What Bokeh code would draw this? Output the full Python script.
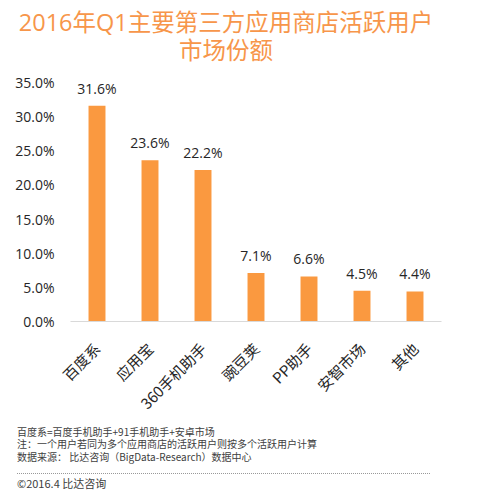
from math import pi
from bokeh.plotting import figure
from bokeh.layouts import column
from bokeh.core.properties import value
from bokeh.models import (ColumnDataSource, FactorRange, Range1d, PrintfTickFormatter,
                          FixedTicker, LabelSet, Div)
from bokeh.embed import file_html
from bokeh.resources import INLINE

categories = ["百度系", "应用宝", "360手机助手", "豌豆荚", "PP助手", "安智市场", "其他"]
shares = [31.6, 23.6, 22.2, 7.1, 6.6, 4.5, 4.4]
share_labels = ["31.6%", "23.6%", "22.2%", "7.1%", "6.6%", "4.5%", "4.4%"]
y_ticks = [0, 5, 10, 15, 20, 25, 30, 35]

title_lines = ["2016年Q1主要第三方应用商店活跃用户", "市场份额"]
notes = ["百度系=百度手机助手+91手机助手+安卓市场",
         "注：一个用户若同为多个应用商店的活跃用户则按多个活跃用户计算",
         "数据来源： 比达咨询（BigData-Research）数据中心"]
copyright_text = "©2016.4  比达咨询"

FONT = "Noto Sans CJK SC"
NUM_FONT = "Open Sans"
W = 499
TOP_H, FIG_H, FOOT_H = 70, 353, 78
FL, FR = 70, 441          # frame left/right (px)
FT, FB = 12, 252          # frame top/bottom inside the figure (px)

src = ColumnDataSource(dict(cat=categories, val=shares, lab=share_labels))

p = figure(width=W, height=FIG_H, output_backend="svg", toolbar_location=None,
           x_range=FactorRange(*categories, range_padding=0.0),
           y_range=Range1d(0, 35),
           min_border_left=FL, min_border_right=W - FR, min_border_top=FT,
           min_border_bottom=FIG_H - FB)
p.outline_line_color = None
p.grid.visible = False
p.background_fill_color = "white"

p.vbar(x="cat", top="val", width=0.32, source=src, fill_color="#FA9940", line_color=None)
p.add_layout(LabelSet(x="cat", y="val", text="lab", source=src, text_align="center",
                      text_baseline="alphabetic", y_offset=12, text_font_size=value("14px"),
                      text_font=value(NUM_FONT), text_color=value("#262626")))

p.yaxis.ticker = FixedTicker(ticks=y_ticks)
p.yaxis.formatter = PrintfTickFormatter(format="%.1f%%")
p.yaxis.axis_line_color = None
p.yaxis.major_tick_line_color = None
p.yaxis.minor_tick_line_color = None
p.yaxis.major_label_text_font_size = "14px"
p.yaxis.major_label_text_font = NUM_FONT
p.yaxis.major_label_text_color = "#262626"
p.yaxis.major_label_standoff = 10

p.xaxis.axis_line_color = "#d9d9d9"
p.xaxis.major_tick_line_color = None
p.xaxis.minor_tick_line_color = None
p.xaxis.major_label_orientation = pi / 4
p.xaxis.major_label_text_font_size = "15px"
p.xaxis.major_label_text_font = FONT
p.xaxis.major_label_text_color = "#262626"
p.xaxis.major_label_standoff = 18

title_html = (
    f"<div style=\"width:452px;text-align:center;color:#F7964A;"
    f"font-family:'{NUM_FONT}','{FONT}';"
    f"font-size:23.5px;line-height:28px;padding-top:8px;white-space:nowrap\">"
    + "<br>".join(title_lines) + "</div>"
)
title_div = Div(text=title_html, width=W, height=TOP_H, margin=0)

foot_html = (
    f"<div style=\"font-family:'{FONT}';color:#404040;padding-left:17px;"
    f"padding-top:3px;white-space:nowrap\">"
    f"<div style=\"font-size:10px;line-height:12.3px\">" + "<br>".join(notes) + "</div>"
    f"<div style=\"width:413px;margin-top:10px;border-top:1px dotted #999999\"></div>"
    f"<div style=\"font-size:11px;line-height:14px;margin-top:2px\">{copyright_text}</div>"
    "</div>"
)
foot_div = Div(text=foot_html, width=W, height=FOOT_H, margin=0)

layout = column(title_div, p, foot_div, spacing=0)

open("out.html", "w").write(file_html(layout, INLINE))
